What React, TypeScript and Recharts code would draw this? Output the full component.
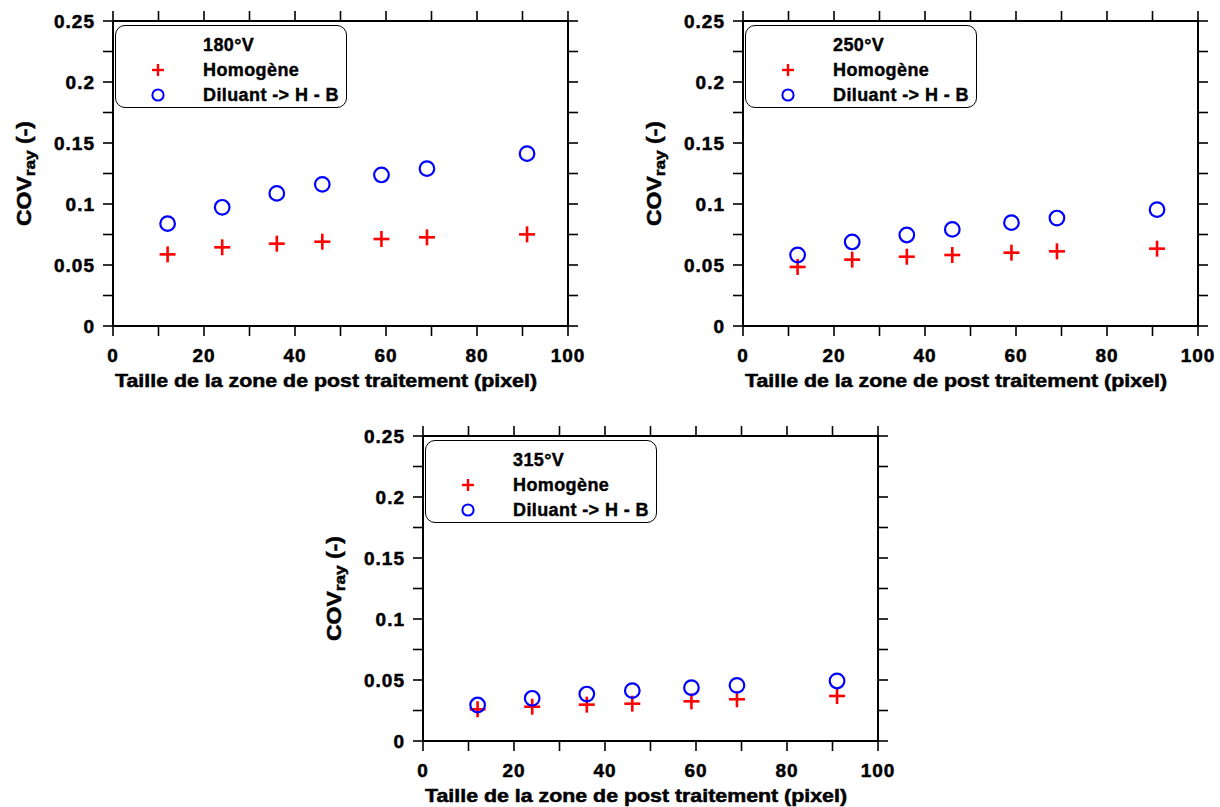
import React from 'react';
import { ScatterChart, Scatter, XAxis, YAxis, Legend } from 'recharts';

// ---------- data ----------
const xValues = [12, 24, 36, 46, 59, 69, 91];

const homogene180 = [0.0587, 0.0645, 0.0675, 0.0691, 0.0713, 0.0727, 0.0751];
const diluant180 = [0.0839, 0.0973, 0.1087, 0.1161, 0.1238, 0.129, 0.1413];

const homogene250 = [0.0484, 0.0544, 0.0568, 0.0582, 0.0601, 0.0612, 0.0634];
const diluant250 = [0.0582, 0.0689, 0.0746, 0.0792, 0.0847, 0.0885, 0.0954];

const homogene315 = [0.026, 0.0281, 0.0298, 0.0306, 0.0325, 0.0342, 0.0369];
const diluant315 = [0.0295, 0.035, 0.0385, 0.0413, 0.0437, 0.0456, 0.0492];

const xTicks = [0, 10, 20, 30, 40, 50, 60, 70, 80, 90, 100];
const xTickLabels = ['0', '', '20', '', '40', '', '60', '', '80', '', '100'];
const yTicks = [0, 0.025, 0.05, 0.075, 0.1, 0.125, 0.15, 0.175, 0.2, 0.225, 0.25];
const yTickLabels = ['0', '', '0.05', '', '0.1', '', '0.15', '', '0.2', '', '0.25'];

const panelTitles = ['180°V', '250°V', '315°V'];
const seriesNames = ['Homogène', 'Diluant -> H - B'];
const xAxisTitle = 'Taille de la zone de post traitement (pixel)';
const yAxisTitleMain = 'COV';
const yAxisTitleSub = 'ray';
const yAxisTitleUnit = ' (-)';

// ---------- style ----------
const FONT = "'Liberation Sans', Arial, Helvetica, sans-serif";
const RED = '#ff0000';
const BLUE = '#0000ff';
const CW = 590;
const CH = 395;
const ML = 100; // y axis width
const MT = 20;
const PW = 455;
const PH = 305;

const axisLineStyle = { stroke: '#000', strokeWidth: 2 };
const tickLineStyle = { stroke: '#000', strokeWidth: 1.6 };

const XTick = (p: any) => {
  const i = xTicks.indexOf(p.payload.value);
  const label = i >= 0 ? xTickLabels[i] : '';
  return (
    <text x={p.x} y={p.y + 13.5} textAnchor="middle" fill="#000" stroke="#000" strokeWidth={0.5}
      fontFamily={FONT} fontWeight={700} fontSize={19} letterSpacing={1}>{label}</text>
  );
};

const YTick = (p: any) => {
  const i = yTicks.findIndex((t) => Math.abs(t - p.payload.value) < 1e-9);
  const label = i >= 0 ? yTickLabels[i] : '';
  return (
    <text x={p.x} y={p.y + 6.8} textAnchor="end" fill="#000" stroke="#000" strokeWidth={0.5}
      fontFamily={FONT} fontWeight={700} fontSize={19} letterSpacing={1}>{label}</text>
  );
};

const EmptyTick = () => <g />;

const PlusShape = (p: any) => {
  const { cx, cy } = p;
  if (cx == null || cy == null) return <g />;
  return (
    <g>
      <line x1={cx - 8} y1={cy} x2={cx + 8} y2={cy} stroke={RED} strokeWidth={2.6} />
      <line x1={cx} y1={cy - 8} x2={cx} y2={cy + 8} stroke={RED} strokeWidth={2.6} />
    </g>
  );
};

const CircleShape = (p: any) => {
  const { cx, cy } = p;
  if (cx == null || cy == null) return <g />;
  return <circle cx={cx} cy={cy} r={7.3} fill="none" stroke={BLUE} strokeWidth={2.2} />;
};

const XTitle = (props: any) => {
  const vb = props.viewBox || { x: ML, y: MT + PH, width: PW, height: 70 };
  return (
    <text x={vb.x + 2} y={vb.y + 61} textAnchor="start" fill="#000" stroke="#000" strokeWidth={0.5}
      fontFamily={FONT} fontWeight={700} fontSize={17.5} textLength={422} lengthAdjust="spacingAndGlyphs">
      {xAxisTitle}
    </text>
  );
};

const YTitle = (props: any) => {
  const vb = props.viewBox || { x: 0, y: MT, width: ML, height: PH };
  const bx = vb.x + vb.width - 82;
  const cy = vb.y + vb.height / 2;
  return (
    <text x={0} y={0} transform={`translate(${bx},${cy}) rotate(-90)`} textAnchor="middle"
      fill="#000" stroke="#000" strokeWidth={0.5} fontFamily={FONT} fontWeight={700} fontSize={20}
      textLength={105} lengthAdjust="spacingAndGlyphs">
      {yAxisTitleMain}
      <tspan fontSize={15} dy={4}>{yAxisTitleSub}</tspan>
      <tspan dy={-4}>{yAxisTitleUnit}</tspan>
    </text>
  );
};

const makeLegend = (title: string) => () => (
  <div style={{
    width: 232, height: 83, boxSizing: 'border-box', border: '1.5px solid #000',
    borderRadius: 10, background: '#fff', position: 'relative', fontFamily: FONT,
    fontWeight: 700, fontSize: 18, color: '#000', lineHeight: '20px', letterSpacing: '0.4px',
    WebkitTextStroke: '0.4px #000',
  }}>
    <div style={{ position: 'absolute', left: 87, top: 9, whiteSpace: 'nowrap' }}>{title}</div>
    <svg style={{ position: 'absolute', left: 34, top: 36 }} width={16} height={16}>
      <line x1={2} y1={8} x2={14} y2={8} stroke={RED} strokeWidth={2.4} />
      <line x1={8} y1={2} x2={8} y2={14} stroke={RED} strokeWidth={2.4} />
    </svg>
    <div style={{ position: 'absolute', left: 87, top: 34, whiteSpace: 'nowrap' }}>{seriesNames[0]}</div>
    <svg style={{ position: 'absolute', left: 34, top: 61 }} width={16} height={16}>
      <circle cx={8} cy={8} r={5.6} fill="none" stroke={BLUE} strokeWidth={2} />
    </svg>
    <div style={{ position: 'absolute', left: 87, top: 59, whiteSpace: 'nowrap' }}>{seriesNames[1]}</div>
  </div>
);

type PanelProps = { left: number; top: number; title: string; homog: number[]; dil: number[] };

function Panel({ left, top, title, homog, dil }: PanelProps) {
  const hData = xValues.map((x, i) => ({ x, y: homog[i] }));
  const dData = xValues.map((x, i) => ({ x, y: dil[i] }));
  return (
    <div style={{ position: 'absolute', left, top, width: CW, height: CH }}>
      <ScatterChart width={CW} height={CH} margin={{ top: MT - 1, right: CW - ML - PW - 1, bottom: 0, left: 0 }}>
        <XAxis xAxisId="b" type="number" dataKey="x" domain={[0, 100]} ticks={xTicks} interval={0}
          allowDataOverflow tickSize={10} tickMargin={12} axisLine={axisLineStyle} tickLine={tickLineStyle}
          tick={XTick} height={CH - MT - PH} label={{ content: XTitle }} />
        <XAxis xAxisId="t" orientation="top" type="number" dataKey="x" domain={[0, 100]} ticks={xTicks}
          interval={0} allowDataOverflow tickSize={10} axisLine={axisLineStyle} tickLine={tickLineStyle}
          tick={EmptyTick} height={1} />
        <YAxis yAxisId="l" type="number" dataKey="y" domain={[0, 0.25]} ticks={yTicks} interval={0}
          allowDataOverflow tickSize={10} tickMargin={8} axisLine={axisLineStyle} tickLine={tickLineStyle}
          tick={YTick} width={ML} label={{ content: YTitle }} />
        <YAxis yAxisId="r" orientation="right" type="number" dataKey="y" domain={[0, 0.25]} ticks={yTicks}
          interval={0} allowDataOverflow tickSize={10} axisLine={axisLineStyle} tickLine={tickLineStyle}
          tick={EmptyTick} width={1} />
        <Scatter xAxisId="b" yAxisId="l" name={seriesNames[0]} data={hData} fill={RED}
          shape={PlusShape} isAnimationActive={false} />
        <Scatter xAxisId="t" yAxisId="r" name={seriesNames[1]} data={dData} fill={BLUE}
          shape={CircleShape} isAnimationActive={false} />
        <Legend layout="horizontal" verticalAlign="middle" align="center" content={makeLegend(title)}
          wrapperStyle={{ left: ML + 2, top: MT + 4, width: 232, height: 83 }} />
      </ScatterChart>
    </div>
  );
}

export default function App() {
  return (
    <div style={{ position: 'absolute', left: 0, top: 0, width: 1220, height: 807, background: '#fff', overflow: 'hidden' }}>
      <Panel left={13} top={1} title={panelTitles[0]} homog={homogene180} dil={diluant180} />
      <Panel left={643} top={1} title={panelTitles[1]} homog={homogene250} dil={diluant250} />
      <Panel left={323} top={416} title={panelTitles[2]} homog={homogene315} dil={diluant315} />
    </div>
  );
}
